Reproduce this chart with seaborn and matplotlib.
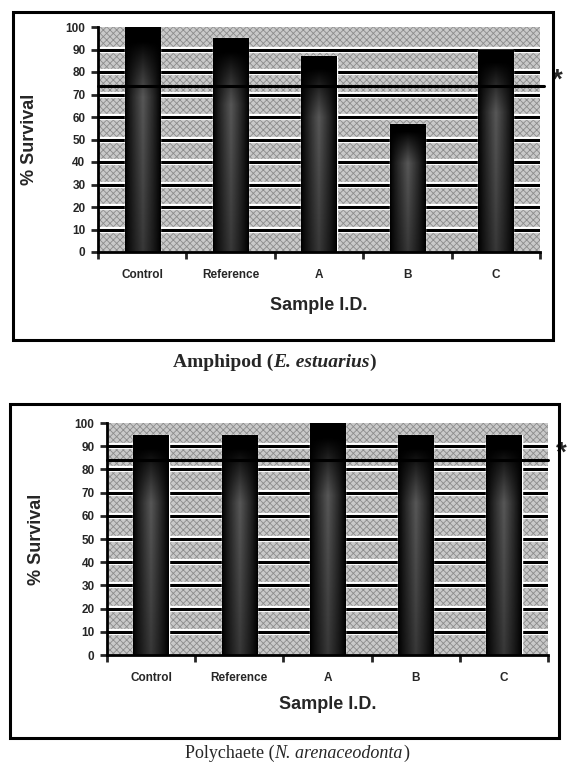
import numpy as np
import pandas as pd
import seaborn as sns
import matplotlib
matplotlib.use("Agg")
import matplotlib.pyplot as plt
from matplotlib.patches import Rectangle
import matplotlib.transforms as mtransforms

# data
samples = ["Control", "Reference", "A", "B", "C"]
amphipod_survival = [100, 95, 87, 57, 90]
polychaete_survival = [95, 95, 100, 95, 95]
amphipod_limit = 74
polychaete_limit = 84
y_ticks = list(range(0, 101, 10))

sns.set_style("white")
plt.rcParams["font.family"] = ["Liberation Sans", "DejaVu Sans"]
plt.rcParams["font.weight"] = "bold"
plt.rcParams["hatch.linewidth"] = 0.6

W, H = 569, 763
fig = plt.figure(figsize=(W / 100, H / 100), dpi=100)


def px_axes(left, top, right, bottom):
    return fig.add_axes([left / W, 1 - bottom / H, (right - left) / W, (bottom - top) / H])


def shade_bars(ax):
    # dark bars with a lighter dithered centre, like the printed originals
    xs = np.linspace(0, 1, 60)
    ys = np.linspace(0, 1, 120)[:, None]
    horiz = (1 - np.abs(2 * xs - 1)) ** 0.9
    vert = np.clip((ys - 0.06) / 0.25, 0, 1) * (1 - 0.45 * ys)
    grad = 0.4 * horiz[None, :] * vert
    xl, yl = ax.get_xlim(), ax.get_ylim()
    for bar in list(ax.patches):
        x0, y0 = bar.get_x(), bar.get_y()
        w, h = bar.get_width(), bar.get_height()
        im = ax.imshow(grad, cmap="gray", vmin=0, vmax=1, aspect="auto",
                       extent=(x0, x0 + w, y0, y0 + h), interpolation="bilinear",
                       zorder=bar.get_zorder() + 0.1)
        im.set_clip_path(bar)
    ax.set_xlim(xl)
    ax.set_ylim(yl)


def survival_panel(ax, values, limit, star_x, star_y):
    df = pd.DataFrame({"sample": samples, "survival": values})
    sns.barplot(data=df, x="sample", y="survival", color="#050505",
                width=0.4, saturation=1, ax=ax, zorder=3)
    ax.set_xlim(-0.5, 4.5)
    ax.set_ylim(0, 100)
    shade_bars(ax)

    # patterned background
    ax.add_patch(Rectangle((0, 0), 1, 1, transform=ax.transAxes,
                           facecolor="#c9c9c9", edgecolor="#8c8c8c",
                           hatch="xxxxx", lw=0, zorder=0))
    for v in y_ticks[1:-1]:
        ax.axhline(v, color="white", lw=4.5, zorder=1)
        ax.axhline(v, color="black", lw=2.2, zorder=2)

    # control limit line with star
    trans = mtransforms.blended_transform_factory(ax.transAxes, ax.transData)
    ax.plot([0, star_x - 0.03], [limit, limit], transform=trans, color="black",
            lw=2.2, clip_on=False, zorder=5)
    ax.text(star_x, star_y, "*", transform=trans, fontsize=20,
            ha="center", va="center", fontweight="bold")

    sns.despine(ax=ax, top=True, right=True)
    for side in ["left", "bottom"]:
        ax.spines[side].set_linewidth(2)
        ax.spines[side].set_color("black")
        ax.spines[side].set_zorder(6)

    ax.set_yticks(y_ticks)
    ax.set_yticklabels([str(t) for t in y_ticks])
    ax.tick_params(axis="y", direction="out", length=5, width=2,
                   labelsize=8.5, pad=4, left=True)
    ax.set_xticks(range(len(samples)))
    ax.set_xticklabels(samples)
    ax.set_xticks(np.arange(-0.5, len(samples), 1), minor=True)
    ax.tick_params(axis="x", which="major", length=0, labelsize=8.5, pad=12)
    ax.tick_params(axis="x", which="minor", direction="out", length=5,
                   width=2, bottom=True)
    ax.set_ylabel("% Survival", fontsize=13, fontweight="bold")
    ax.set_xlabel("Sample I.D.", fontsize=13, fontweight="bold")


def caption(left_px, base_px, parts, size):
    # caption in pieces (roman / italic), laid end to end on one baseline
    x = left_px
    for txt, style, weight in parts:
        t = fig.text(x / W, 1 - base_px / H, txt, family="Liberation Serif",
                     style=style, fontweight=weight, fontsize=size,
                     ha="left", va="baseline")
        fig.canvas.draw()
        x = t.get_window_extent().x1


# top panel: amphipod
ax1 = px_axes(98, 27, 540, 252)
survival_panel(ax1, amphipod_survival, amphipod_limit, 1.04, 76)
ax1.xaxis.set_label_coords(0.5, -0.2)
ax1.yaxis.set_label_coords(-0.135, 0.5)

# bottom panel: polychaete
ax2 = px_axes(107, 423, 548, 655)
survival_panel(ax2, polychaete_survival, polychaete_limit, 1.03, 87)
ax2.xaxis.set_label_coords(0.5, -0.175)
ax2.yaxis.set_label_coords(-0.14, 0.5)

# outer frames
fig.add_artist(Rectangle((13 / W, 1 - 340 / H), 540 / W, 328 / H,
                         transform=fig.transFigure, fill=False,
                         edgecolor="black", lw=2.2))
fig.add_artist(Rectangle((10 / W, 1 - 738 / H), 549 / W, 334 / H,
                         transform=fig.transFigure, fill=False,
                         edgecolor="black", lw=2.2))

# captions
caption(173, 367, [("Amphipod (", "normal", "bold"),
                   ("E. estuarius", "italic", "bold"),
                   (")", "normal", "bold")], 14)
caption(185, 758, [("Polychaete (", "normal", "normal"),
                   ("N. arenaceodonta", "italic", "normal"),
                   (")", "normal", "normal")], 13)

fig.savefig("out.png", dpi=100)
